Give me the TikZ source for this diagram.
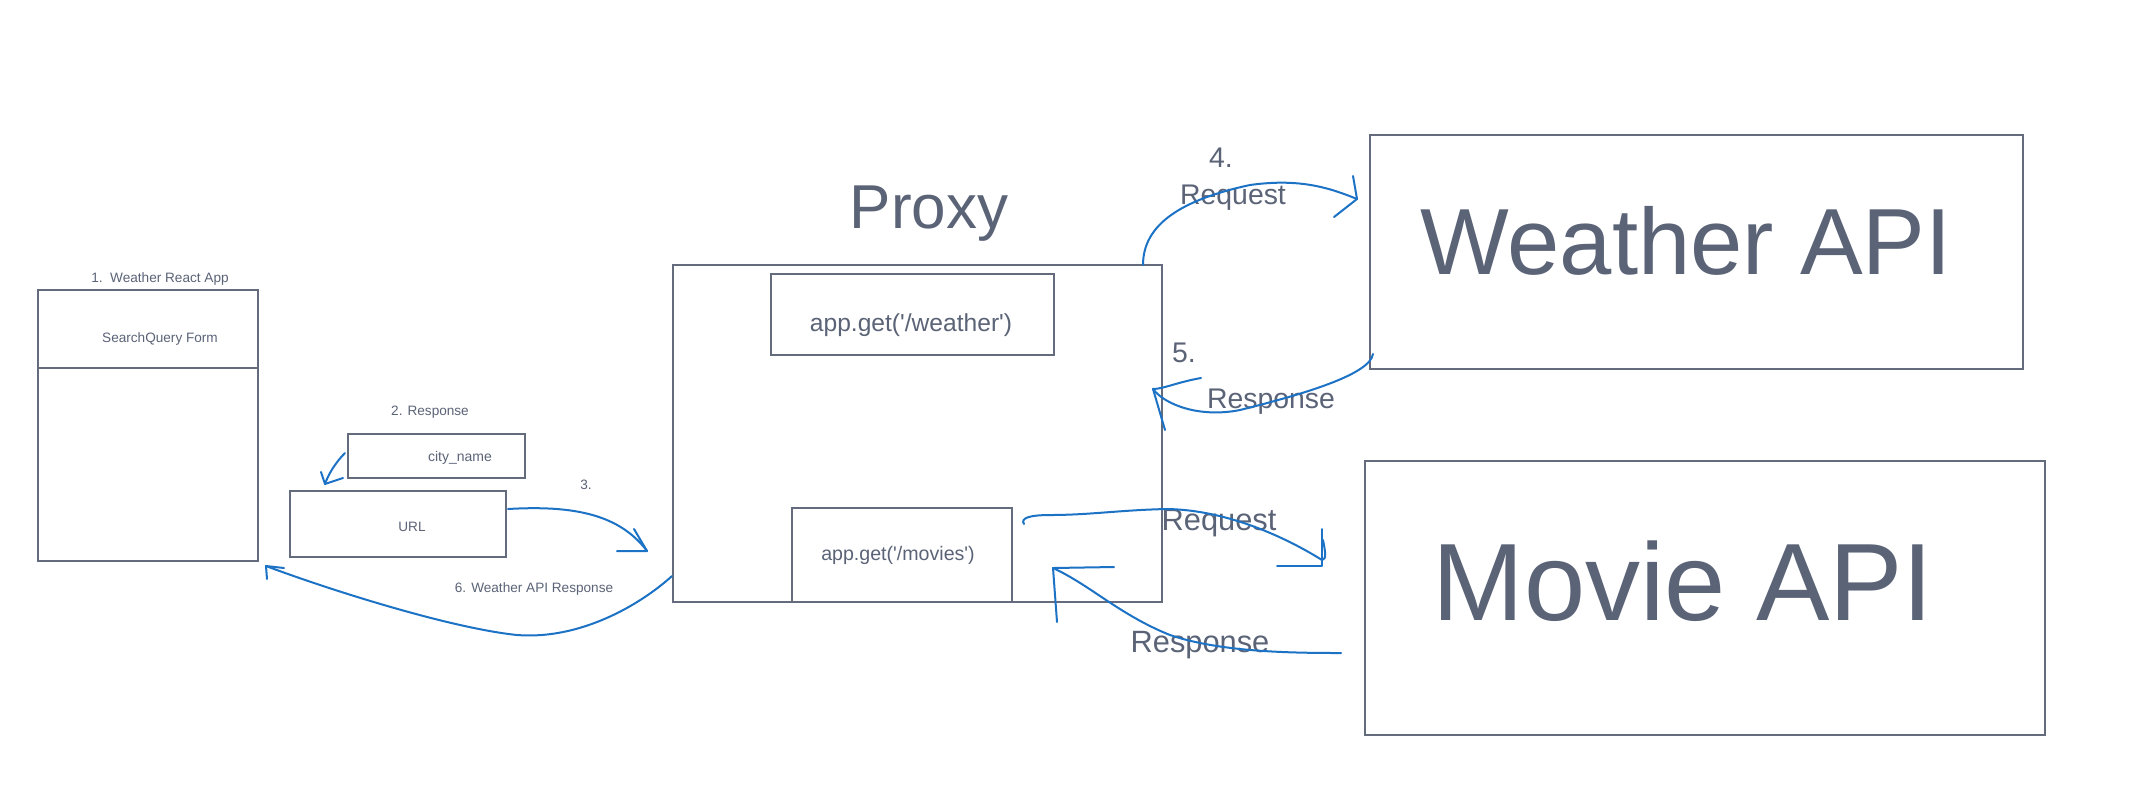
\documentclass[tikz,border=0pt]{standalone}
\usepackage{fontspec}
\setmainfont{Liberation Sans}
\usetikzlibrary{fit,calc}
\definecolor{ink}{HTML}{5B6377}
\definecolor{edgegray}{HTML}{646B7D}
\definecolor{penblue}{HTML}{1C72C5}
\begin{document}
\begin{tikzpicture}[x=0.5pt,y=-0.5pt,
  boxline/.style={draw=edgegray,line width=1pt},
  box/.style={boxline,inner sep=0pt},
  lbl/.style={text=ink,inner sep=0pt,anchor=base},
  small/.style={lbl,font=\fontsize{6.8}{8}\selectfont},
  mid/.style={lbl,font=\fontsize{14.2}{16}\selectfont},
  big/.style={lbl,font=\fontsize{15.4}{17}\selectfont},
  pen/.style={draw=penblue,line width=1pt,line cap=round,line join=round}]
\fill[white] (0,0) rectangle (2140,800);
\useasboundingbox (0,0) rectangle (2140,800);

% boxes
\node[box,fit={(38,290) (258,561)}] (app) {};
\node[box,fit={(348,434) (525,478)}] (city) {};
\node[box,fit={(290,491) (506,557)}] (url) {};
\node[box,fit={(673,265) (1162,602)}] (proxy) {};
\node[box,fit={(771,274) (1054,355)}] (wget) {};
\node[box,fit={(792,508) (1012,602)}] (mget) {};
\node[box,fit={(1370,135) (2023,369)}] (wapi) {};
\node[box,fit={(1365,461) (2045,735)}] (mapi) {};
\draw[boxline] (app.west |- 0,368) -- (app.east |- 0,368);

% texts
\node[small] (tapp) at (160,282) {1.\ \ Weather React App};
\node[small] (tform) at (160,342) {SearchQuery Form};
\node[small] (tresp2) at (430,415) {2. Response};
\node[lbl,font=\fontsize{7}{8}\selectfont] (tcity) at (460,461) {city\_name};
\node[small] (turl) at (412,531) {URL};
\node[small] (t3) at (586,489) {3.};
\node[small] (t6) at (534,592) {6. Weather API Response};
\node[lbl,font=\fontsize{31}{31}\selectfont] (tproxy) at (929,228) {Proxy};
\node[lbl,font=\fontsize{12.3}{14}\selectfont] (twget) at (911,331) {app.get(\textquotesingle/weather\textquotesingle)};
\node[lbl,font=\fontsize{9.8}{12}\selectfont] (tmget) at (898,560) {app.get(\textquotesingle/movies\textquotesingle)};
\node[lbl,font=\fontsize{47}{47}\selectfont] (twapi) at (1686,274) {Weather API};
\node[lbl,font=\fontsize{55}{55}\selectfont] (tmapi) at (1683,620) {Movie API};
\node[mid] (t4) at (1221,167) {4.};
\node[mid] (treq1) at (1233,204) {Request};
\node[mid] (t5) at (1184,362) {5.};
\node[mid] (tres1) at (1271,408) {Response};
\node[big] (treq2) at (1219,530) {Request};
\node[big] (tres2) at (1200,652) {Response};

% connector end points
\coordinate (s2) at ($(city.west)+(-2,-3)$);
\coordinate (e2) at ($(url.north west)+(36,-6)$);
\coordinate (s3) at ($(url.east)+(1,-15)$);
\coordinate (e3) at ($(proxy.south west)+(-25,-52)$);
\coordinate (s4) at ($(proxy.north east)+(-20,1)$);
\coordinate (e4) at ($(wapi.west)+(-12,-53)$);
\coordinate (s5) at ($(wapi.south west)+(4,-16)$);
\coordinate (e5) at ($(proxy.east)+(-10,-44.5)$);
\coordinate (s6) at ($(proxy.south west)+(0,-27)$);
\coordinate (e6) at ($(app.south east)+(7,4)$);
\coordinate (s7) at ($(mget.north east)+(11,17)$);
\coordinate (e7) at ($(mapi.west)+(-42,-38)$);
\coordinate (s8) at ($(mapi.west)+(-23,55)$);
\coordinate (e8) at ($(mget.east)+(40,13)$);

% 2: city_name -> URL
\draw[pen] (s2) .. controls (335,463) and (328,475) .. (e2);
\draw[pen] ($(e2)+(-4,-12)$) -- (e2) -- ($(e2)+(18,-6)$);
% 3: URL -> proxy
\draw[pen] (s3) .. controls (575,505) and (620,515) .. (e3);
\draw[pen] ($(e3)+(-13,-22)$) -- (e3) -- ($(e3)+(-30,0)$);
% 4: proxy -> Weather API
\draw[pen] (s4) .. controls (1143,225) and (1180,200) .. (1250,185)
  .. controls (1300,178) and (1330,188) .. (e4);
\draw[pen] ($(e4)+(-4,-23)$) -- (e4) -- ($(e4)+(-23,18)$);
% 5: Weather API -> proxy
\draw[pen] (s5) .. controls (1370,375) and (1300,395) .. (1240,410)
  .. controls (1200,418) and (1165,405) .. (e5);
\draw[pen] ($(e5)+(48,-11)$) .. controls ($(e5)+(25,-7)$) and ($(e5)+(10,0)$) .. (e5) -- ($(e5)+(12,41)$);
% 6: proxy -> React app
\draw[pen] (s6) .. controls (640,605) and (580,640) .. (517,635)
  .. controls (450,628) and (330,590) .. (e6);
\draw[pen] ($(e6)+(18,2)$) -- (e6) -- ($(e6)+(1,13)$);
% movies request
\draw[pen] (s7) .. controls (1020,518) and (1030,515) .. (1050,515)
  .. controls (1090,515) and (1120,510) .. (1167,509)
  .. controls (1230,510) and (1290,540) .. (e7)
  .. controls ($(e7)+(5,0)$) and ($(e7)+(3,-10)$) .. ($(e7)+(1,-20)$);
\draw[pen] ($(e7)+(0,-31)$) -- ($(e7)+(0,6)$) -- ($(e7)+(-45,6)$);
% movies response
\draw[pen] (s8) .. controls (1290,653) and (1220,652) .. (1170,635)
  .. controls (1120,615) and (1090,585) .. (e8);
\draw[pen] ($(e8)+(61,-1)$) -- (e8) -- ($(e8)+(4,54)$);
\end{tikzpicture}
\end{document}
